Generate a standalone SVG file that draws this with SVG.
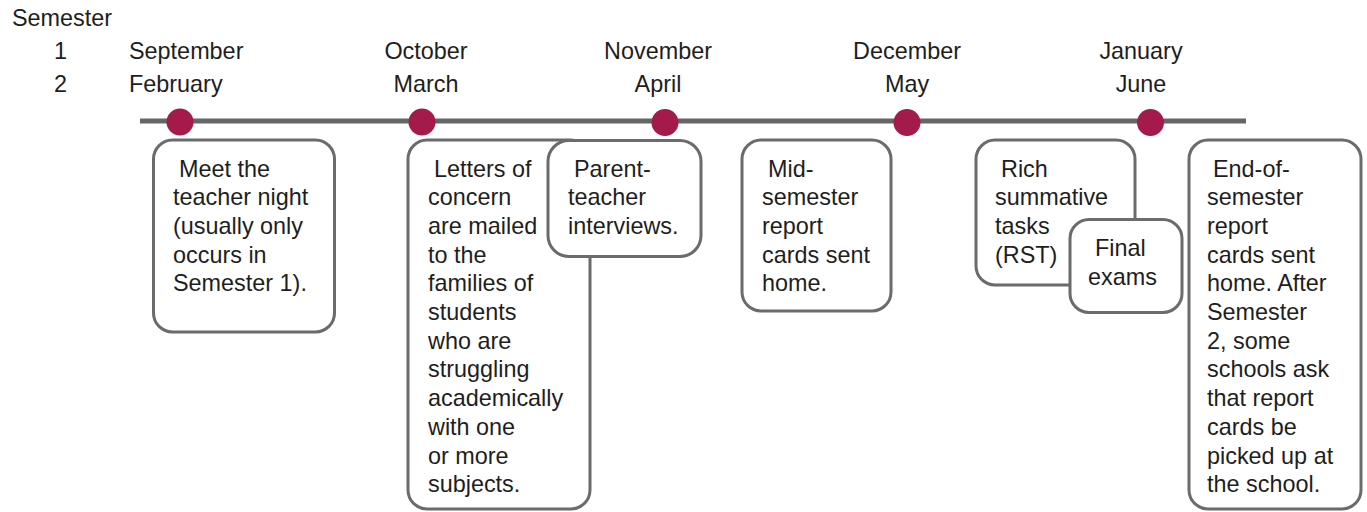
<svg xmlns="http://www.w3.org/2000/svg" width="1367" height="512" viewBox="0 0 1367 512">
<style>
text{font-family:"Liberation Sans",Arial,sans-serif;font-size:23.4px;fill:#1e1e1e}
.box{fill:#fff;stroke:#6b6b6b;stroke-width:3}
.dot{fill:#a31a4b}
.mid{text-anchor:middle}
</style>
<rect width="1367" height="512" fill="#fff"/>
<g id="header">
<text x="12" y="26">Semester</text>
<text x="60.5" y="59" class="mid">1</text>
<text x="60.5" y="92" class="mid">2</text>
<text x="129" y="59">September</text>
<text x="129" y="92">February</text>
<text x="426" y="59" class="mid">October</text>
<text x="426" y="92" class="mid">March</text>
<text x="658" y="59" class="mid">November</text>
<text x="658" y="92" class="mid">April</text>
<text x="907" y="59" class="mid">December</text>
<text x="907" y="92" class="mid">May</text>
<text x="1141" y="59" class="mid">January</text>
<text x="1141" y="92" class="mid">June</text>
</g>
<g id="connectors">
<line x1="140" y1="121" x2="1246" y2="121" stroke="#666" stroke-width="5"/>
<circle class="dot" cx="180" cy="122" r="13.5"/>
<circle class="dot" cx="422" cy="122" r="13.5"/>
<circle class="dot" cx="665" cy="122.5" r="13.5"/>
<circle class="dot" cx="907" cy="122.5" r="13.5"/>
<circle class="dot" cx="1150.5" cy="122.5" r="13.5"/>
</g>
<g id="meet">
<rect class="box" x="153.5" y="140" width="181" height="192" rx="19"/>
<text x="173"><tspan x="179" y="176.5">Meet the</tspan><tspan x="173" y="205.2">teacher night</tspan><tspan x="173" y="233.9">(usually only</tspan><tspan x="173" y="262.6">occurs in</tspan><tspan x="173" y="291.3">Semester 1).</tspan></text>
</g>
<g id="letters">
<rect class="box" x="408" y="140" width="182" height="369" rx="19"/>
<text><tspan x="434" y="176.5">Letters of</tspan><tspan x="428" y="205.2">concern</tspan><tspan x="428" y="233.9">are mailed</tspan><tspan x="428" y="262.6">to the</tspan><tspan x="428" y="291.3">families of</tspan><tspan x="428" y="320">students</tspan><tspan x="428" y="348.7">who are</tspan><tspan x="428" y="377.4">struggling</tspan><tspan x="428" y="406.1">academically</tspan><tspan x="428" y="434.8">with one</tspan><tspan x="428" y="463.5">or more</tspan><tspan x="428" y="492.2">subjects.</tspan></text>
</g>
<g id="parent">
<rect class="box" x="548" y="140.5" width="153" height="116" rx="21"/>
<text><tspan x="574" y="176.5">Parent-</tspan><tspan x="568" y="205.2">teacher</tspan><tspan x="568" y="233.9">interviews.</tspan></text>
</g>
<g id="midsem">
<rect class="box" x="742" y="140" width="149" height="171" rx="19"/>
<text><tspan x="768" y="176.5">Mid-</tspan><tspan x="762" y="205.2">semester</tspan><tspan x="762" y="233.9">report</tspan><tspan x="762" y="262.6">cards sent</tspan><tspan x="762" y="291.3">home.</tspan></text>
</g>
<g id="rich">
<rect class="box" x="976" y="140" width="159" height="145" rx="19"/>
<text><tspan x="1001" y="176.5">Rich</tspan><tspan x="995" y="205.2">summative</tspan><tspan x="995" y="233.9">tasks</tspan><tspan x="995" y="262.6">(RST)</tspan></text>
</g>
<g id="final">
<rect class="box" x="1070" y="219.5" width="112" height="93" rx="19"/>
<text><tspan x="1095" y="256">Final</tspan><tspan x="1088" y="284.7">exams</tspan></text>
</g>
<g id="endsem">
<rect class="box" x="1189" y="140" width="172" height="369" rx="19"/>
<text><tspan x="1213" y="176.5">End-of-</tspan><tspan x="1207" y="205.2">semester</tspan><tspan x="1207" y="233.9">report</tspan><tspan x="1207" y="262.6">cards sent</tspan><tspan x="1207" y="291.3">home. After</tspan><tspan x="1207" y="320">Semester</tspan><tspan x="1207" y="348.7">2, some</tspan><tspan x="1207" y="377.4">schools ask</tspan><tspan x="1207" y="406.1">that report</tspan><tspan x="1207" y="434.8">cards be</tspan><tspan x="1207" y="463.5">picked up at</tspan><tspan x="1207" y="492.2">the school.</tspan></text>
</g>
</svg>
